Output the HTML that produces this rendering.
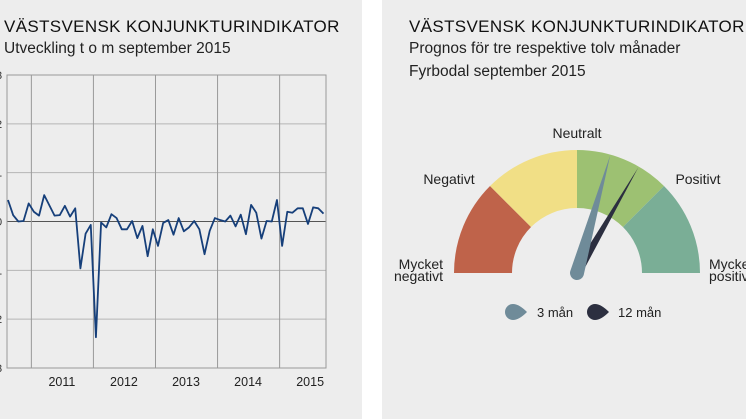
<!DOCTYPE html>
<html><head><meta charset="utf-8">
<style>
body{margin:0;width:746px;height:419px;background:#fff;overflow:hidden;font-family:"Liberation Sans",sans-serif;}
.panel{position:absolute;top:0;height:419px;background:#ededed;}
.t{position:absolute;color:#111;white-space:nowrap;}
</style></head>
<body>
<div class="panel" style="left:0;width:362px">
  <div class="t" style="left:4px;top:17px;font-size:17px;letter-spacing:0.35px">VÄSTSVENSK KONJUNKTURINDIKATOR</div>
  <div class="t" style="left:4px;top:40px;font-size:15.5px;color:#222">Utveckling t o m september 2015</div>
  <svg id="line" width="362" height="419" style="position:absolute;left:0;top:0"></svg>
</div>
<div class="panel" style="left:382px;width:364px">
  <div class="t" style="left:27px;top:17px;font-size:17px;letter-spacing:0.35px">VÄSTSVENSK KONJUNKTURINDIKATOR</div>
  <div class="t" style="left:27px;top:40px;font-size:15.5px;color:#222">Prognos för tre respektive tolv månader</div>
  <div class="t" style="left:27px;top:63px;font-size:15.5px;color:#222">Fyrbodal september 2015</div>
</div>
<svg id="gauge" width="746" height="419" style="position:absolute;left:0;top:0"></svg>
<script>
const NS="http://www.w3.org/2000/svg";
function mk(p,tag,a){const e=document.createElementNS(NS,tag);for(const k in a)e.setAttribute(k,a[k]);p.appendChild(e);return e;}
// ---- line chart data
const years=["2011","2012","2013","2014","2015"];
const yearStartIdx=[5,17,29,41,53];
const values=[0.44,0.13,0,0.01,0.37,0.2,0.12,0.54,0.33,0.12,0.13,0.32,0.1,0.27,-0.96,-0.25,-0.07,-2.37,-0.02,-0.12,0.15,0.07,-0.16,-0.16,0.01,-0.34,-0.09,-0.71,-0.16,-0.5,-0.03,0.03,-0.27,0.07,-0.2,-0.12,0.01,-0.16,-0.67,-0.19,0.07,0.03,0,0.12,-0.1,0.14,-0.26,0.34,0.18,-0.35,0.01,0,0.44,-0.5,0.2,0.18,0.27,0.27,-0.05,0.29,0.27,0.16];
const yTicks=[-3,-2,-1,0,1,2,3];
const L=7,R=326,T=75,B=368;
const xs=i=>8+i*(323.5-8)/61;
const ys=v=>T+(3-v)/6*(B-T);
const s=document.getElementById('line');
yTicks.forEach(v=>{const l=mk(s,'line',{x1:L,x2:R,y1:ys(v),y2:ys(v),stroke:v===0?'#555':'#b5b5b5','stroke-width':1});

const t=mk(s,'text',{x:-4,y:ys(v)+4,'font-size':11,fill:'#333'});t.textContent=Math.abs(v);
});
yearStartIdx.forEach((idx,k)=>{const x=xs(idx)-2.5;
const l=mk(s,'line',{x1:x,x2:x,y1:T,y2:B,stroke:'#999','stroke-width':1});

const t=mk(s,'text',{x:xs(idx+6)-3,y:386,'font-size':12.5,fill:'#222','text-anchor':'middle'});t.textContent=years[k];
});
const fr=mk(s,'rect',{x:L,y:T,width:R-L,height:B-T,fill:'none',stroke:'#999'});

const p=mk(s,'polyline',{points:values.map((v,i)=>xs(i)+','+ys(v)).join(' '),fill:'none',stroke:'#163f7a','stroke-width':1.8,'stroke-linejoin':'round'});

// ---- gauge data
const needleValues=[0.35,0.67]; // in segment units (-2..2, 0 = neutral center)
const needleNames=["3 mån","12 mån"];
const g=document.getElementById('gauge');
const cx=577,cy=273,ro=123,ri=65;
const pt=(a,r)=>[cx+r*Math.cos(a*Math.PI/180),cy-r*Math.sin(a*Math.PI/180)];
function arc(a1,a2,fill,name){const p1=pt(a1,ro),p2=pt(a2,ro),p3=pt(a2,ri),p4=pt(a1,ri);
const e=mk(g,'path',{d:`M${p1}A${ro},${ro} 0 0 1 ${p2}L${p3}A${ri},${ri} 0 0 0 ${p4}Z`,fill});
}
arc(180,135,'#bf634a','segment-very-negative');
arc(135,90,'#f1df86','segment-negative');
arc(90,45,'#9dc172','segment-neutral-positive');
arc(45,0,'#7aae96','segment-very-positive');
const valToAng=v=>90-v*45;
const cols=['#6f8b99','#2c2f40'];
[1,0].forEach(i=>{const a=valToAng(needleValues[i]);const tip=pt(a,i===0?122:122);
const w=i===0?7:4.5;const pa=(a+90)*Math.PI/180;
const b1=[cx+w*Math.cos(pa),cy-w*Math.sin(pa)],b2=[cx-w*Math.cos(pa),cy+w*Math.sin(pa)];
const e=mk(g,'path',{d:`M${tip}L${b1}A${w},${w} 0 1 0 ${b2}Z`,fill:cols[i]});
});
const lbl=[[443,0,'end',["Mycket","negativt"]],[449,184,'middle',["Negativt"]],[577,138,'middle',["Neutralt"]],[698,184,'middle',["Positivt"]],[709,0,'start',["Mycket","positivt"]]];
lbl.forEach(l=>{l[3].forEach((ln,j)=>{const t=mk(g,'text',{x:l[0],y:l[3].length>1?(269+j*12):l[1],'font-size':14,fill:'#222','text-anchor':l[2]});
t.textContent=ln;
});});
// legend
[[515,cols[0],537,needleNames[0]],[597,cols[1],618,needleNames[1]]].forEach(d=>{
const e=mk(g,'path',{d:`M${d[0]+12},312 Q${d[0]+4},304 ${d[0]-2},304 A8,8 0 0 0 ${d[0]-2},320 Q${d[0]+4},320 ${d[0]+12},312Z`,fill:d[1]});

const t=mk(g,'text',{x:d[2],y:317,'font-size':13,fill:'#222'});t.textContent=d[3];
});
</script>
</body></html>
